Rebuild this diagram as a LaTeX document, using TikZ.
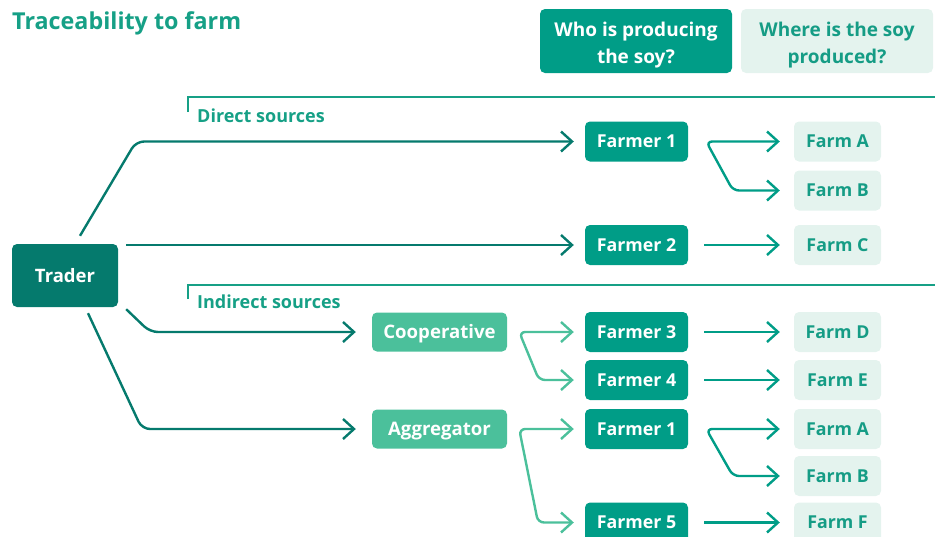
\documentclass[tikz,border=0pt]{standalone}
\usepackage{fontspec}
\setmainfont{Open Sans}
\usetikzlibrary{arrows.meta,calc}

\definecolor{tradercol}{HTML}{057A6D}
\definecolor{farmercol}{HTML}{009D87}
\definecolor{coopcol}{HTML}{4BC09B}
\definecolor{farmfill}{HTML}{E4F3EE}
\definecolor{farmtext}{HTML}{159C85}
\definecolor{titlecol}{HTML}{16A086}

\newcommand{\topstrut}{\rule{0pt}{23.5pt}}

\tikzset{
  boxbase/.style={rounded corners=5pt, inner sep=0pt, align=center,
    text height=12.6pt, text depth=0pt,
    font=\fontsize{17.8}{20}\selectfont\bfseries},
  traderbox/.style={boxbase, fill=tradercol, text=white, minimum width=106pt, minimum height=63pt,
    text height=13.2pt, font=\fontsize{18.5}{22}\selectfont\bfseries},
  farmerbox/.style={boxbase, fill=farmercol, text=white, minimum width=103pt, minimum height=40pt},
  midbox/.style={boxbase, fill=coopcol, text=white, minimum width=135pt, minimum height=39pt,
    text height=13.2pt, font=\fontsize{18.6}{20}\selectfont\bfseries},
  farmbox/.style={boxbase, fill=farmfill, text=farmtext, minimum width=87pt, minimum height=40pt},
  headdark/.style={rounded corners=5pt, inner sep=0pt, align=center,
    fill=farmercol, text=white, minimum width=192pt, minimum height=64pt,
    font=\fontsize{19}{27}\selectfont\bfseries},
  headlight/.style={headdark, fill=farmfill, text=farmtext},
  label/.style={anchor=base west, inner sep=0pt, text=titlecol,
    font=\fontsize{18}{20}\selectfont\bfseries},
  barb/.tip={Straight Barb[length=11pt,width=20pt]},
  trd/.style={draw=tradercol, line width=2.4pt, rounded corners=8pt, -barb},
  fwd/.style={draw=farmercol, line width=2.4pt, rounded corners=6pt, -barb},
  fwdfork/.style={fwd, barb-barb},
  mid/.style={draw=coopcol, line width=2.4pt, rounded corners=6pt, barb-barb},
  bracket/.style={draw=titlecol, line width=2pt}
}

\begin{document}
\begin{tikzpicture}[x=1pt, y=-1pt]
\useasboundingbox (0,0) rectangle (935,536);

% title and column headers
\node[label, font=\fontsize{23.3}{28}\selectfont\bfseries] (title) at (12,29) {Traceability to farm};
\node[headdark] (who) at (636,41) {\topstrut Who is producing\\the soy?};
\node[headlight] (where) at (837,41) {\topstrut Where is the soy\\produced?};

% section brackets
\draw[bracket] (188,112) -- (188,97) -- (935,97);
\node[label] (direct) at (197,122) {Direct sources};
\draw[bracket] (188,299) -- (188,284.5) -- (935,284.5);
\node[label] (indirect) at (197,308.5) {Indirect sources};

% trader and intermediaries
\node[traderbox] (trader) at (65,275.5) {Trader};
\node[midbox] (coop) at (439.5,332) {Cooperative};
\node[midbox] (agg) at (439.5,429) {Aggregator};

% farmers
\node[farmerbox] (f1a) at (636.5,141.5) {Farmer 1};
\node[farmerbox] (f2)  at (636.5,245) {Farmer 2};
\node[farmerbox] (f3)  at (636.5,332) {Farmer 3};
\node[farmerbox] (f4)  at (636.5,380) {Farmer 4};
\node[farmerbox] (f1b) at (636.5,429) {Farmer 1};
\node[farmerbox] (f5)  at (636.5,522.5) {Farmer 5};

% farms
\node[farmbox] (fa1) at (837.5,141.5) {Farm A};
\node[farmbox] (fb1) at (837.5,190.5) {Farm B};
\node[farmbox] (fc)  at (837.5,245) {Farm C};
\node[farmbox] (fd)  at (837.5,332) {Farm D};
\node[farmbox] (fe)  at (837.5,380) {Farm E};
\node[farmbox] (fa2) at (837.5,429) {Farm A};
\node[farmbox] (fb2) at (837.5,476) {Farm B};
\node[farmbox] (ff)  at (837.5,522.5) {Farm F};

% trader links
\draw[trd] ([shift={(15,-8)}]trader.north) -- (136,141.5) -- ([xshift=-11pt]f1a.west);
\draw[trd] ($(trader.east |- f2.west)+(8,0)$) -- ([xshift=-11pt]f2.west);
\draw[trd] ([shift={(8,2)}]trader.south east) -- (150,332) -- ([xshift=-16pt]coop.west);
\draw[trd] ([shift={(23,6)}]trader.south) -- (142,429) -- ([xshift=-16pt]agg.west);

% intermediary to farmer links
\draw[mid] ([xshift=-11pt]f3.west) -- ([xshift=12pt]coop.east) -- (539,380) -- ([xshift=-11pt]f4.west);
\draw[mid] ([xshift=-11pt]f1b.west) -- ([xshift=12pt]agg.east) -- (538,522.5) -- ([xshift=-11pt]f5.west);

% farmer to farm links
\draw[fwdfork] ([xshift=-14pt]fa1.west) -- ([xshift=18pt]f1a.east) -- (733,190.5) -- ([xshift=-14pt]fb1.west);
\draw[fwd] ([xshift=16pt]f2.east) -- ([xshift=-14pt]fc.west);
\draw[fwd] ([xshift=16pt]f3.east) -- ([xshift=-14pt]fd.west);
\draw[fwd] ([xshift=16pt]f4.east) -- ([xshift=-14pt]fe.west);
\draw[fwdfork] ([xshift=-14pt]fa2.west) -- ([xshift=18pt]f1b.east) -- (733,476) -- ([xshift=-14pt]fb2.west);
\draw[fwd] ([xshift=16pt]f5.east) -- ([xshift=-14pt]ff.west);
\end{tikzpicture}
\end{document}
